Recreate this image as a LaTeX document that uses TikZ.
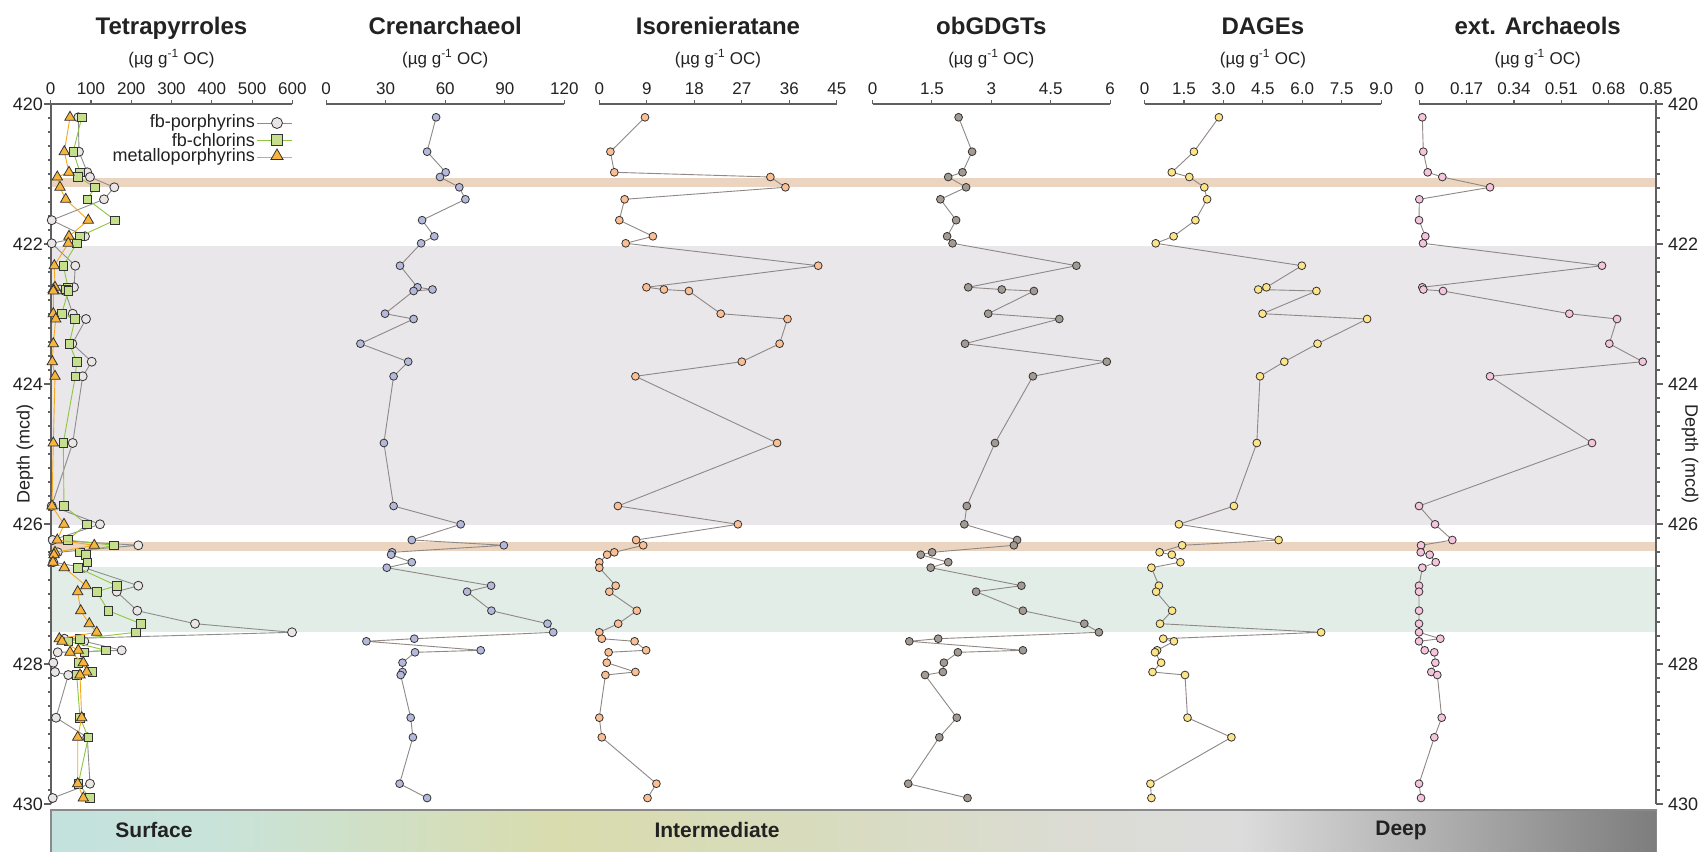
\documentclass[tikz,border=0pt]{standalone}
\usepackage{fontspec}
\setmainfont{Liberation Sans}
\usetikzlibrary{shapes.geometric}
\definecolor{txtc}{HTML}{222222}
\definecolor{axisc}{HTML}{606060}
\definecolor{connc}{HTML}{8F8885}
\definecolor{outc}{HTML}{333333}
\definecolor{beigeband}{HTML}{EBD5C0}
\definecolor{greyband}{HTML}{E9E7EA}
\definecolor{greenband}{HTML}{E2EDE7}
\definecolor{crenc}{HTML}{B4B9DC}
\definecolor{isorc}{HTML}{FBBF93}
\definecolor{obgc}{HTML}{A39A94}
\definecolor{dagec}{HTML}{FDE487}
\definecolor{extc}{HTML}{F6C4DC}
\definecolor{porphc}{HTML}{EBE6E6}
\definecolor{chlorc}{HTML}{C6DF8C}
\definecolor{metc}{HTML}{F9B53B}
\definecolor{chlorline}{HTML}{8DC63F}
\definecolor{metline}{HTML}{F6A81C}
\definecolor{porphline}{HTML}{8D8D8D}
\definecolor{barA}{HTML}{C3E2DE}
\definecolor{barB}{HTML}{C9E3D8}
\definecolor{barC}{HTML}{D9DCAD}
\definecolor{barD}{HTML}{D8DCBE}
\definecolor{barE}{HTML}{DCDCD6}
\definecolor{barF}{HTML}{DCDCDC}
\definecolor{barG}{HTML}{7D7D7D}
\definecolor{barborder}{HTML}{8A8A8A}

\def\D{{117.3,151.7,172.3,177,187.3,199.3,220.2,236.3,243.3,265.7,287.3,289.5,291,313.7,319,343.7,361.7,376.3,443,506,524.3,540,545.3,552.3,554.7,562.2,567.7,585.7,591.7,610.7,623.7,632.3,638.7,641.3,650.3,652.3,662.7,672,675,717.7,737.3,783.7,798}}

\newcommand\mkseries[2]{%
  \foreach \xv [count=\i] in {#2} {%
    \pgfmathsetmacro\yv{\D[\i-1]}%
    \coordinate (#1-\i) at (\xv,\yv);%
  }}
\newcommand\drawseries[3]{%
  \draw[#2] (#1-1) foreach \j in {2,...,43} { -- (#1-\j) };
  \foreach \j in {1,...,43} \node[#3] (#1-m\j) at (#1-\j) {};
}
\newcommand\topaxis[4]{%
  \draw[axisline] (#1,104) -- ({#1+#2*#3},104);
  \foreach \t [count=\c from 0] in {#4} {%
    \draw[axisline] ({#1+#2*\c},104) -- ({#1+#2*\c},99.5);
    \node[ticklabel] at ({#1+#2*\c},94) {\t};
  }}

\begin{document}
\begin{tikzpicture}[x=1pt,y=-1pt,
  axisline/.style={draw=axisc,line width=1.1pt},
  conn/.style={draw=connc,line width=0.9pt,line join=round},
  dot/.style={circle,draw=outc,line width=0.8pt,inner sep=0pt,minimum size=7.8pt},
  bigdot/.style={circle,draw=outc,line width=0.8pt,inner sep=0pt,minimum size=9pt,fill=porphc},
  sq/.style={rectangle,draw=outc,line width=0.8pt,inner sep=0pt,minimum size=8.6pt,fill=chlorc},
  tri/.style={regular polygon,regular polygon sides=3,draw=outc,line width=0.8pt,inner sep=0pt,minimum size=12pt,fill=metc},
  ticklabel/.style={anchor=base,inner sep=0pt,text=txtc,font=\fontsize{17}{20}\selectfont},
  depthlabel/.style={inner sep=0pt,text=txtc,font=\fontsize{18}{21}\selectfont},
  title/.style={anchor=base,inner sep=0pt,text=txtc,font=\fontsize{24}{28}\selectfont\bfseries},
  subtitle/.style={anchor=base,inner sep=0pt,text=txtc,font=\fontsize{17}{20}\selectfont},
  legtext/.style={anchor=east,inner sep=0pt,text=txtc,font=\fontsize{18}{21}\selectfont},
  zone/.style={inner sep=0pt,text=txtc,font=\fontsize{21}{24}\selectfont\bfseries}]
\useasboundingbox (0,0) rectangle (1702,851);
\fill[white] (0,0) rectangle (1702,851);

% background bands
\fill[greyband] (51,245.7) rectangle (1656,525);
\fill[greenband] (51,567) rectangle (1656,632.3);
\fill[beigeband] (51,178.3) rectangle (1656,187.3);
\fill[beigeband] (51,542.3) rectangle (1656,551);

% bottom bar
\shade[left color=barA,right color=barB] (51,810) rectangle (230,852);
\shade[left color=barB,right color=barC] (229.5,810) rectangle (560,852);
\shade[left color=barC,right color=barD] (559.5,810) rectangle (820,852);
\shade[left color=barD,right color=barE] (819.5,810) rectangle (1100,852);
\shade[left color=barE,right color=barF] (1099.5,810) rectangle (1240,852);
\shade[left color=barF,right color=barG] (1239.5,810) rectangle (1656.7,852);
\draw[barborder,line width=1.2pt] (51,852) -- (51,810) -- (1656.7,810) -- (1656.7,852);
\node[zone] (zs) at (154,830) {Surface};
\node[zone] (zi) at (717,830) {Intermediate};
\node[zone] (zd) at (1401,830) {Deep};

% left depth axis
\draw[axisline] (51,104) -- (51,804);
\foreach \k in {0,...,50} \draw[axisline] (51,{104+14*\k}) -- (47.5,{104+14*\k});
\foreach \v [count=\c from 0] in {420,422,424,426,428,430} {
  \draw[axisline] (51,{104+140*\c}) -- (44,{104+140*\c});
  \node[depthlabel,anchor=east] at (43,{104+140*\c}) {\v};
}
\node[depthlabel,rotate=90] (dl) at (25,454) {Depth (mcd)};

% right depth axis
\draw[axisline] (1656,104) -- (1656,804);
\foreach \k in {0,...,50} \draw[axisline] (1656,{104+14*\k}) -- (1659.5,{104+14*\k});
\foreach \v [count=\c from 0] in {420,422,424,426,428,430} {
  \draw[axisline] (1656,{104+140*\c}) -- (1663,{104+140*\c});
  \node[depthlabel,anchor=west] at (1668,{104+140*\c}) {\v};
}
\node[depthlabel,rotate=-90] (dr) at (1690,454) {Depth (mcd)};

% top axes
\topaxis{50.7}{40.27}{6}{0,100,200,300,400,500,600}
\topaxis{326.1}{59.55}{4}{0,30,60,90,120}
\topaxis{599.3}{47.5}{5}{0,9,18,27,36,45}
\topaxis{872.5}{59.4}{4}{0,1.5,3,4.5,6}
\topaxis{1144.6}{39.42}{6}{0,1.5,3.0,4.5,6.0,7.5,9.0}
\topaxis{1419.3}{47.34}{5}{0,0.17,0.34,0.51,0.68,0.85}

% titles
\node[title] (t1) at (171.5,34.3) {Tetrapyrroles};
\node[title] (t2) at (445.2,34.3) {Crenarchaeol};
\node[title] (t3) at (718,34.3) {Isorenieratane};
\node[title] (t4) at (991.3,34.3) {obGDGTs};
\node[title] (t5) at (1262.9,34.3) {DAGEs};
\node[title] (t6) at (1537.7,34.3) {ext. Archaeols};
\foreach \cx/\nm in {171.5/s1,445.2/s2,718/s3,991.3/s4,1262.9/s5,1537.7/s6}
  \node[subtitle] (\nm) at (\cx,64) {(µg g\textsuperscript{-1} OC)};

% data
\mkseries{por}{78.3,79,87.3,90,114.3,104,51.7,85,51.7,75.3,74,60,65,72.7,86,72.3,91.7,82.7,72.7,51.7,100,52.7,138.3,57.7,53.3,53.3,84.3,138.3,116.7,137.3,195,292,64.3,84.3,121.7,57.7,53.3,55,68.3,56,87.3,90,52.7}
\mkseries{chl}{81.7,73.3,80,78,95,87.3,115,80,76.7,63.3,68,66,68.3,61.7,75,69.3,76.7,75.3,63.3,64,86.7,67.7,114,80,86,87.3,77.7,116.7,96.7,108.3,140.7,136,80,68.3,106,84.3,78.3,92.3,76.7,80,88.3,78.3,90}
\mkseries{met}{70,64.3,69,57.3,60,65.7,88.3,69,68.3,54.3,55,53.3,53.3,53.3,55.7,53.3,52.3,55,53.3,52,64,57.3,94.3,55,54,53,64.3,86,77.7,80.7,89.3,96.7,59.3,62,78.3,70,83.3,86.7,80,81.7,77.7,77.7,83.3}
\mkseries{cren}{436.1,427.1,445.7,440,459.3,465.4,422.1,434.3,421.1,400,417.5,432.5,413.6,385,413.6,360.4,408.2,393.6,383.9,393.6,460.7,411.8,503.9,392.1,391.1,411.8,386.8,491.1,467.1,491.4,547.5,553.2,414.3,366.4,480.7,415,402.5,402.5,400.7,410.7,412.9,399.6,427.1}
\mkseries{isor}{645,610.4,614.3,770.4,785.4,624.6,619.3,652.9,625.7,818.2,646.4,663.9,688.9,720.7,787.5,779.6,741.8,635.4,777.1,617.9,737.9,636.1,643.2,614.3,607.1,599.3,599.3,615.7,609.3,636.8,618.2,599.3,601.8,634.6,646.1,608.6,606.8,635.4,605.4,599.3,601.8,656.4,647.5}
\mkseries{obg}{958.6,972.1,962.5,948.2,966.1,940.4,956.1,947.1,952.5,1076.4,968.2,1001.8,1033.9,988.2,1059.3,965,1106.8,1032.9,995,966.8,964.3,1017.1,1013.9,932.1,920.7,948.2,930.7,1021.4,976.1,1022.9,1084.3,1098.9,938.2,909.3,1022.9,957.9,943.9,942.9,925,956.8,939.3,908.2,967.5}
\mkseries{dage}{1218.9,1193.9,1171.8,1189.3,1204.3,1207.1,1195.4,1173.6,1155.7,1301.8,1266.4,1258.2,1316.4,1262.5,1367.1,1317.5,1284.3,1260,1256.8,1233.9,1178.9,1278.6,1182.1,1159.6,1171.8,1180.4,1151.4,1158.9,1156.1,1172.1,1160,1321.1,1163.2,1173.9,1157.1,1155,1161.1,1152.5,1185,1187.5,1231.4,1150.4,1151.4}
\mkseries{ext}{1422.3,1423.3,1427.7,1442.3,1490,1419.3,1419,1425.3,1423,1602,1422.3,1423.3,1443,1569.3,1617,1609.3,1642.7,1490,1592,1419,1435,1452.3,1421,1420.7,1429.7,1435.7,1422.3,1419,1419,1419,1419,1419,1440.3,1419,1424.7,1434.3,1435.3,1431.3,1437.3,1441.7,1434.3,1419,1421}

\drawseries{por}{draw=porphline,line width=0.9pt}{bigdot}
\drawseries{chl}{draw=chlorline,line width=0.9pt}{sq}
\drawseries{met}{draw=metline,line width=0.9pt}{tri}
\drawseries{cren}{conn}{dot,fill=crenc}
\drawseries{isor}{conn}{dot,fill=isorc}
\drawseries{obg}{conn}{dot,fill=obgc}
\drawseries{dage}{conn}{dot,fill=dagec}
\drawseries{ext}{conn}{dot,fill=extc}

% legend
\node[legtext] (l1) at (255,123) {fb-porphyrins};
\node[legtext] (l2) at (255,140) {fb-chlorins};
\node[legtext] (l3) at (255,157) {metalloporphyrins};
\coordinate (l1a) at (257,123); \coordinate (l1b) at (292,123);
\coordinate (l2a) at (257,140); \coordinate (l2b) at (292,140);
\coordinate (l3a) at (257,157); \coordinate (l3b) at (292,157);
\draw[draw=porphline,line width=0.9pt] (l1a) -- (l1b);
\draw[draw=chlorline,line width=0.9pt] (l2a) -- (l2b);
\draw[draw=metline,line width=0.9pt] (l3a) -- (l3b);
\node[bigdot,minimum size=11pt] (lm1) at (277,123) {};
\node[sq,minimum size=10.5pt] (lm2) at (277,140) {};
\node[tri,minimum size=14pt] (lm3) at (277,156) {};
\end{tikzpicture}
\end{document}
